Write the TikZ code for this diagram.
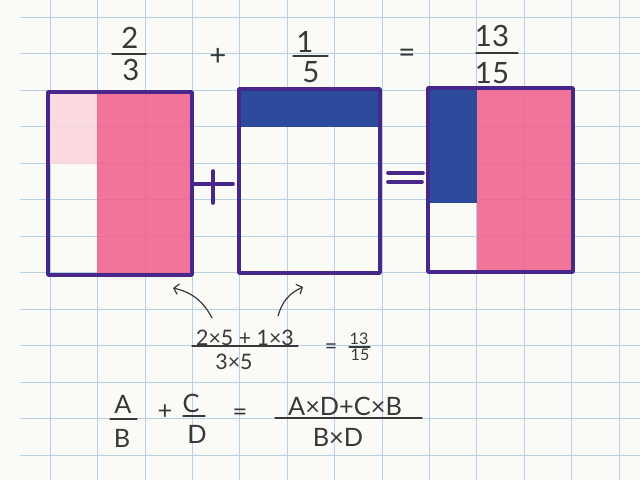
\documentclass[tikz,border=0pt]{standalone}
\usepackage{fontspec}
\setmainfont{Lato}
\usetikzlibrary{arrows.meta}
\definecolor{paper}{HTML}{FAFAF7}
\definecolor{gridblue}{HTML}{B8D0E6}
\definecolor{ink}{HTML}{47278A}
\definecolor{rose}{HTML}{F2628E}
\definecolor{blush}{HTML}{FAD4DE}
\definecolor{navy}{HTML}{2D4B9C}
\definecolor{lead}{HTML}{383838}
\begin{document}
\begin{tikzpicture}[x=0.75pt, y=-0.75pt,
    gl/.style={gridblue, line width=0.6pt},
    pen/.style={draw=ink, line width=2.7pt, line join=round, line cap=round},
    bar/.style={lead, line width=0.9pt, line cap=round},
    arr/.style={lead, line width=0.9pt, -{Straight Barb[length=3.5pt, width=8pt]}},
    big/.style={text=lead, inner sep=0pt, font=\fontsize{22}{22}\selectfont},
    sym/.style={text=lead, inner sep=0pt, font=\fontsize{19}{19}\selectfont},
    mid/.style={text=lead, inner sep=0pt, font=\fontsize{16}{16}\selectfont},
    sml/.style={text=lead, inner sep=0pt, font=\fontsize{12}{12}\selectfont}]
    \useasboundingbox (0,0) rectangle (640,480);
    \fill[paper] (0,0) rectangle (640,480);
    \foreach \i in {0,...,12}
        \draw[gl] (50.2+47.4*\i,0) -- (50.2+47.4*\i,480);
    \foreach \j in {0,...,12}
        \draw[gl] (20,17+36.5*\j) -- (640,17+36.5*\j);

    \fill[blush, opacity=0.85] (48,92) rectangle (97,164);
    \fill[rose, opacity=0.88] (97,92) rectangle (192,275);
    \draw[pen] (48,92) rectangle (192,275);

    \fill[navy] (239,89) rectangle (380,127);
    \draw[pen] (239,89) rectangle (380,273);

    \fill[navy] (428,88) rectangle (477,203);
    \fill[rose, opacity=0.88] (477,88) rectangle (573,272);
    \draw[pen] (428,88) rectangle (573,272);

    \draw[pen] (193,184) -- (233,184);
    \draw[pen] (213,171) -- (213,203);
    \draw[pen] (388,173) -- (423,173);
    \draw[pen] (388,182) -- (422,182);

    \node[big] (n1) at (130,38) {2};
    \draw[bar] (112,54) -- (146,54);
    \node[big] (d1) at (131,70) {3};
    \node[big] (p1) at (218,57) {+};
    \node[big] (n2) at (305,42) {1};
    \draw[bar] (293,56) -- (328,56);
    \node[big] (d2) at (311,72) {5};
    \node[big] (e1) at (407,56) {=};
    \node[big] (n3) at (492,36) {13};
    \draw[bar] (476,53) -- (518,53);
    \node[big] (d3) at (492,73) {15};

    \node[mid] (sn) at (245,338) {2×5 + 1×3};
    \draw[bar] (192,346) -- (298,346);
    \node[mid] (sd) at (234,362) {3×5};
    \node[mid] (se) at (331,349) {=};
    \node[sml] (rn) at (359,339) {13};
    \draw[bar] (349,347) -- (370,347);
    \node[sml] (rd) at (360,355) {15};

    \coordinate (ha) at (173,288);
    \coordinate (ta) at (212,318);
    \coordinate (hb) at (303,287);
    \coordinate (tb) at (278,316);
    \draw[arr] (ta) to[bend right=25] (ha);
    \draw[arr] (tb) to[bend left=25] (hb);

    \node[sym] (an) at (123,404) {A};
    \draw[bar] (110,419) -- (137,419);
    \node[sym] (ad) at (122,438) {B};
    \node[sym] (pl) at (165,412) {+};
    \node[sym] (cn) at (191,403) {C};
    \draw[bar] (183,416) -- (205,416);
    \node[sym] (cd) at (197,434) {D};
    \node[sym] (eq) at (240,415) {=};
    \node[sym] (fn) at (345,406) {A×D+C×B};
    \draw[bar] (275,418) -- (422,418);
    \node[sym] (fd) at (338,437) {B×D};
\end{tikzpicture}
\end{document}
